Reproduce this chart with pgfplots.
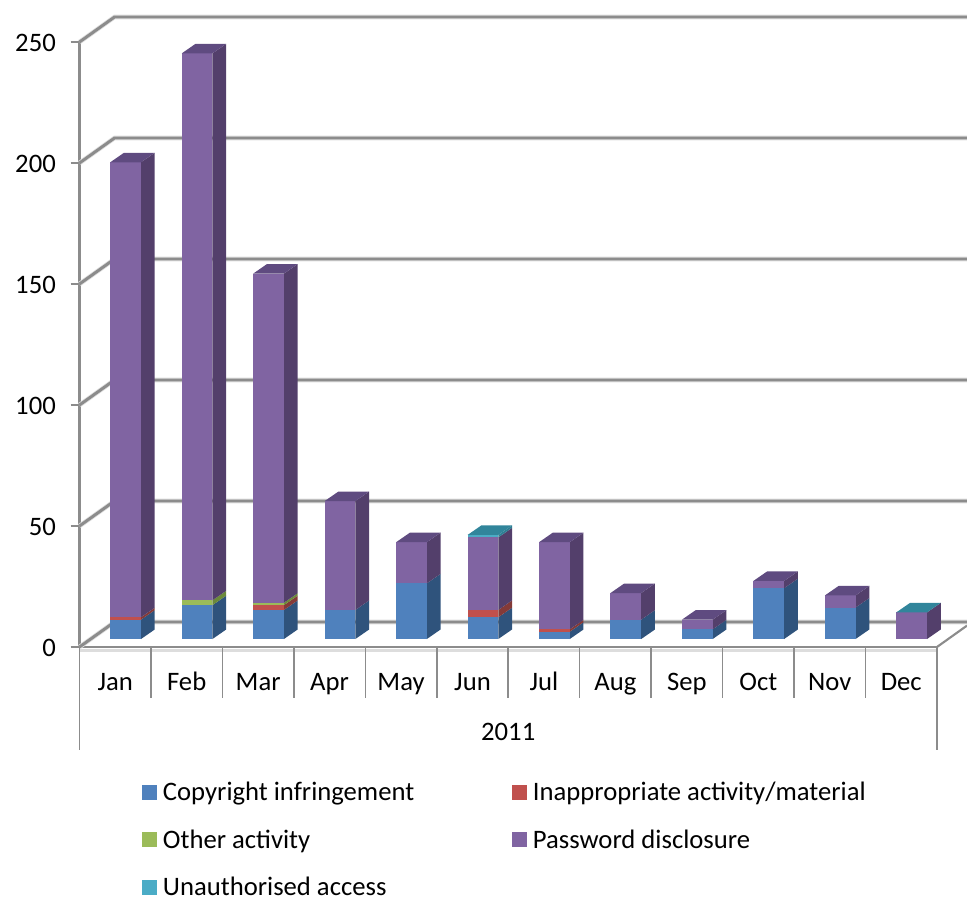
\documentclass[border=0pt]{standalone}
\usepackage{pgfplots}
\pgfplotsset{compat=1.18}
\usepackage{fontspec}
\setmainfont{Carlito}
\definecolor{cblue}{HTML}{4F81BD}\definecolor{sblue}{HTML}{2F537C}
\definecolor{cred}{HTML}{C0504D}\definecolor{sred}{HTML}{843A38}
\definecolor{cgreen}{HTML}{9BBB59}\definecolor{sgreen}{HTML}{6C8A3A}
\definecolor{cpurple}{HTML}{8064A2}\definecolor{spurple}{HTML}{533F6B}\definecolor{tpurple}{HTML}{5F4B80}
\definecolor{ccyan}{HTML}{4BACC6}\definecolor{scyan}{HTML}{2F7F94}\definecolor{tcyan}{HTML}{31859B}
\definecolor{wallgray}{HTML}{8C8C8C}
\definecolor{halo}{HTML}{DDDDDD}
\newcommand\lab{\fontsize{20}{22}\selectfont}
% bar geometry in axis units
\def\bb{3.3}\def\dd{3.93}\def\xl{0.431}\def\xw{0.43}\def\xd{0.192}
\newcommand\seg[4]{% month, value, front, side
  \pgfmathsetmacro\ynew{\cum+#2}%
  \ifdim #2pt>0pt
    \pgfmathsetmacro\xa{#1+\xl}\pgfmathsetmacro\xb{\xa+\xw}\pgfmathsetmacro\xc{\xb+\xd}%
    \pgfmathsetmacro\ya{\cum+\bb}\pgfmathsetmacro\yb{\ynew+\bb}%
    \pgfmathsetmacro\yc{\ya+\dd}\pgfmathsetmacro\yd{\yb+\dd}%
    \edef\temp{\noexpand\addplot[fill=#4,draw=none,forget plot] coordinates {(\xb,\ya)(\xc,\yc)(\xc,\yd)(\xb,\yb)} --cycle;
      \noexpand\addplot[fill=#3,draw=none,forget plot] coordinates {(\xa,\ya)(\xb,\ya)(\xb,\yb)(\xa,\yb)} --cycle;}\temp
  \fi
  \let\cum\ynew}
\newcommand\topface[2]{%
  \pgfmathsetmacro\xa{#1+\xl}\pgfmathsetmacro\xb{\xa+\xw}\pgfmathsetmacro\xc{\xb+\xd}\pgfmathsetmacro\xe{\xa+\xd}%
  \pgfmathsetmacro\ya{\cum+\bb}\pgfmathsetmacro\yb{\ya+\dd}%
  \edef\temp{\noexpand\addplot[fill=#2,draw=none,forget plot] coordinates {(\xa,\ya)(\xb,\ya)(\xc,\yb)(\xe,\yb)} --cycle;}\temp}
\newcommand\stackbar[7]{% month, copyright, inappropriate, other, password, unauthorised, top colour
  \def\cum{0}%
  \seg{#1}{#2}{cblue}{sblue}\seg{#1}{#3}{cred}{sred}\seg{#1}{#4}{cgreen}{sgreen}%
  \seg{#1}{#5}{cpurple}{spurple}\seg{#1}{#6}{ccyan}{scyan}%
  \topface{#1}{#7}}
\newcommand\wall[1]{%
  \pgfmathsetmacro\yy{#1+10.33}%
  \edef\temp{\noexpand\addplot[halo,line width=3.4pt,forget plot] coordinates {(0,#1)(0.49,\yy)(12.42,\yy)};
  \noexpand\addplot[wallgray,line width=2.2pt,forget plot] coordinates {(0,#1)(0.49,\yy)(12.42,\yy)};}\temp}
\begin{document}
\begin{tikzpicture}
\path[use as bounding box] (-59.625pt,-189pt) rectangle (665.625pt,485.25pt);
\begin{axis}[
  at={(0pt,0pt)},anchor=south west,
  scale only axis,width=643.1pt,height=453.75pt,
  xmin=0,xmax=12,ymin=0,ymax=250,clip=false,
  axis lines*=left,
  axis line style={wallgray,line width=2pt,-},
  ytick={0,50,100,150,200,250},
  ytick style={wallgray,line width=1.2pt},
  major tick length=6.75pt,tick align=outside,
  yticklabel style={font=\lab,xshift=-7.5pt,yshift=-0.6pt},
  /pgf/number format/assume math mode=true,
  xtick={0.5,1.5,2.5,3.5,4.5,5.5,6.5,7.5,8.5,9.5,10.5,11.5},
  xticklabels={Jan,Feb,Mar,Apr,May,Jun,Jul,Aug,Sep,Oct,Nov,Dec},
  xtick style={draw=none},
  xticklabel style={font=\lab,anchor=center,text height=13pt,text depth=4pt,yshift=-21.5pt},
  legend columns=2,
  legend cell align=left,
  legend image code/.code={\fill[draw=none,#1] (0pt,-5.6pt) rectangle (11.25pt,5.6pt);},
  legend style={at={(axis cs:0.875,-54.6)},anchor=north west,draw=none,fill=none,inner sep=0pt,
    font=\lab,row sep=16.3pt,
    /tikz/column 1/.style={column sep=2.25pt},
    /tikz/column 2/.style={column sep=71.5pt},
    /tikz/column 3/.style={column sep=2.25pt}},
]
\addlegendimage{fill=cblue}\addlegendentry{Copyright infringement}
\addlegendimage{fill=cred}\addlegendentry{Inappropriate activity/material}
\addlegendimage{fill=cgreen}\addlegendentry{Other activity}
\addlegendimage{fill=cpurple}\addlegendentry{Password disclosure}
\addlegendimage{fill=ccyan}\addlegendentry{Unauthorised access}
% back walls and gridlines
\wall{0}\wall{50}\wall{100}\wall{150}\wall{200}\wall{250}
\addplot[wallgray,line width=1.6pt,forget plot] coordinates {(12,0)(12.42,8.84)};
% light band under the front edge of the floor
\addplot[halo,line width=2.4pt,forget plot] coordinates {(0,-1.4)(12,-1.4)};
% bars: month, copyright, inappropriate, other, password, unauthorised
\stackbar{0}{8}{1}{0}{188}{0}{tpurple}
\stackbar{1}{14}{0}{2}{226}{0}{tpurple}
\stackbar{2}{12}{2}{1}{136}{0}{tpurple}
\stackbar{3}{12}{0}{0}{45}{0}{tpurple}
\stackbar{4}{23}{0}{0}{17}{0}{tpurple}
\stackbar{5}{9}{3}{0}{30}{1}{tcyan}
\stackbar{6}{3}{1}{0}{36}{0}{tpurple}
\stackbar{7}{8}{0}{0}{11}{0}{tpurple}
\stackbar{8}{4}{0}{0}{4}{0}{tpurple}
\stackbar{9}{21}{0}{0}{3}{0}{tpurple}
\stackbar{10}{13}{0}{0}{5}{0}{tpurple}
\stackbar{11}{0}{0}{0}{11}{0}{tcyan}
% category separators
\pgfplotsinvokeforeach{1,...,11}{\addplot[wallgray,line width=1.2pt,forget plot] coordinates {(#1,0)(#1,-21.07)};}
\addplot[wallgray,line width=1.2pt,forget plot] coordinates {(0,0)(0,-42.56)};
\addplot[wallgray,line width=1.2pt,forget plot] coordinates {(12,0)(12,-42.56)};
\node[font=\lab] at (axis cs:6,-35.1) {2011};
\end{axis}
\end{tikzpicture}
\end{document}
